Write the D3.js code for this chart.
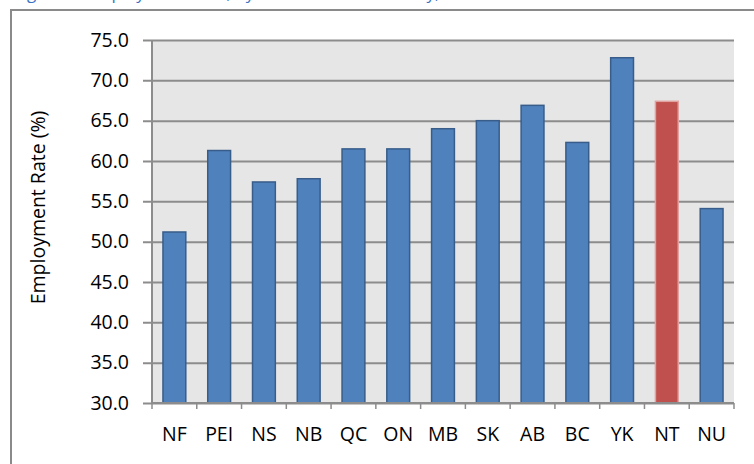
<!DOCTYPE html>
<html>
<head>
<meta charset="utf-8">
<script src="https://cdn.jsdelivr.net/npm/d3@7"></script>
<style>
  body { margin: 0; background: #fff; }
  text { font-family: "Open Sans", sans-serif; fill: #000; }
</style>
</head>
<body>
<div id="chart"></div>
<script>
// data
const provinces = ["NF", "PEI", "NS", "NB", "QC", "ON", "MB", "SK", "AB", "BC", "YK", "NT", "NU"];
const rates = [51.2, 61.3, 57.4, 57.8, 61.5, 61.5, 64.0, 65.0, 66.9, 62.3, 72.8, 67.4, 54.1];
const highlight = ["NT"];
const yTicks = [30, 35, 40, 45, 50, 55, 60, 65, 70, 75];
const titleText = "Figure 6: Employment Rate, by Province and Territory, 2009";
const yTitle = "Employment Rate (%)";

const FWidth = 754, FHeight = 464;
const MARGIN = { LEFT: 152, RIGHT: 20, TOP: 40, BOTTOM: 61 };
const WIDTH = FWidth - (MARGIN.LEFT + MARGIN.RIGHT);
const HEIGHT = FHeight - (MARGIN.TOP + MARGIN.BOTTOM);
const FONT = "19.5px";

const svg = d3.select("#chart")
  .append("svg")
  .attr("width", FWidth)
  .attr("height", FHeight);

// caption above the frame (cut off at the top, like the source)
svg.append("text")
  .attr("x", 14)
  .attr("y", -1)
  .style("fill", "#3b73c4")
  .style("font-size", "17px")
  .text(titleText);

// frame
svg.append("rect")
  .attr("x", 11).attr("y", 10)
  .attr("width", 900).attr("height", 600)
  .attr("fill", "none")
  .attr("stroke", "#8a8a8a")
  .attr("stroke-width", 2);

const g = svg.append("g")
  .attr("transform", `translate(${MARGIN.LEFT}, ${MARGIN.TOP})`);

const x = d3.scaleBand()
  .domain(provinces)
  .range([0, WIDTH])
  .paddingInner(0.49)
  .paddingOuter(0.245);

const y = d3.scaleLinear()
  .domain([30, 75])
  .range([HEIGHT, 0]);

g.append("rect")
  .attr("width", WIDTH)
  .attr("height", HEIGHT)
  .attr("fill", "#e6e6e6");

// gridlines + y ticks
const yAxis = g.append("g")
  .call(d3.axisLeft(y).tickValues(yTicks).tickSize(9).tickPadding(14)
    .tickFormat(d3.format(".1f")));
yAxis.select(".domain").remove();
yAxis.selectAll(".tick line")
  .attr("x2", WIDTH)
  .attr("x1", -9)
  .attr("stroke", "#8c8c8c")
  .attr("stroke-width", 2);
yAxis.selectAll(".tick text")
  .style("font-size", FONT)
  .attr("fill", "#000");

// bars
g.selectAll(".bar")
  .data(provinces)
  .enter()
  .append("rect")
  .attr("class", "bar")
  .attr("x", d => x(d))
  .attr("width", x.bandwidth())
  .attr("y", (d, i) => y(rates[i]))
  .attr("height", (d, i) => HEIGHT - y(rates[i]))
  .attr("fill", d => highlight.includes(d) ? "#c0504d" : "#4f81bd")
  .attr("stroke", d => highlight.includes(d) ? "#e0a3a2" : "#385d8a")
  .attr("stroke-width", 1.5);

// x axis with ticks between categories
const step = x.step();
const xAxisG = g.append("g").attr("transform", `translate(0, ${HEIGHT})`);
xAxisG.append("line")
  .attr("x1", 0).attr("x2", WIDTH)
  .attr("stroke", "#8c8c8c").attr("stroke-width", 2);
xAxisG.selectAll(".xtick")
  .data(d3.range(provinces.length + 1))
  .enter()
  .append("line")
  .attr("x1", i => i * step).attr("x2", i => i * step)
  .attr("y1", 0).attr("y2", 6)
  .attr("stroke", "#8c8c8c").attr("stroke-width", 1.5);
xAxisG.selectAll(".xlab")
  .data(provinces)
  .enter()
  .append("text")
  .attr("x", d => x(d) + x.bandwidth() / 2)
  .attr("y", 38)
  .attr("text-anchor", "middle")
  .style("font-size", FONT)
  .text(d => d);

// y axis line
g.append("line")
  .attr("x1", 0).attr("x2", 0)
  .attr("y1", 0).attr("y2", HEIGHT)
  .attr("stroke", "#8c8c8c").attr("stroke-width", 2);

svg.append("text")
  .attr("transform", `translate(45, ${MARGIN.TOP + HEIGHT / 2 - 14}) rotate(-90)`)
  .attr("text-anchor", "middle")
  .style("font-size", FONT)
  .text(yTitle);
</script>
</body>
</html>
